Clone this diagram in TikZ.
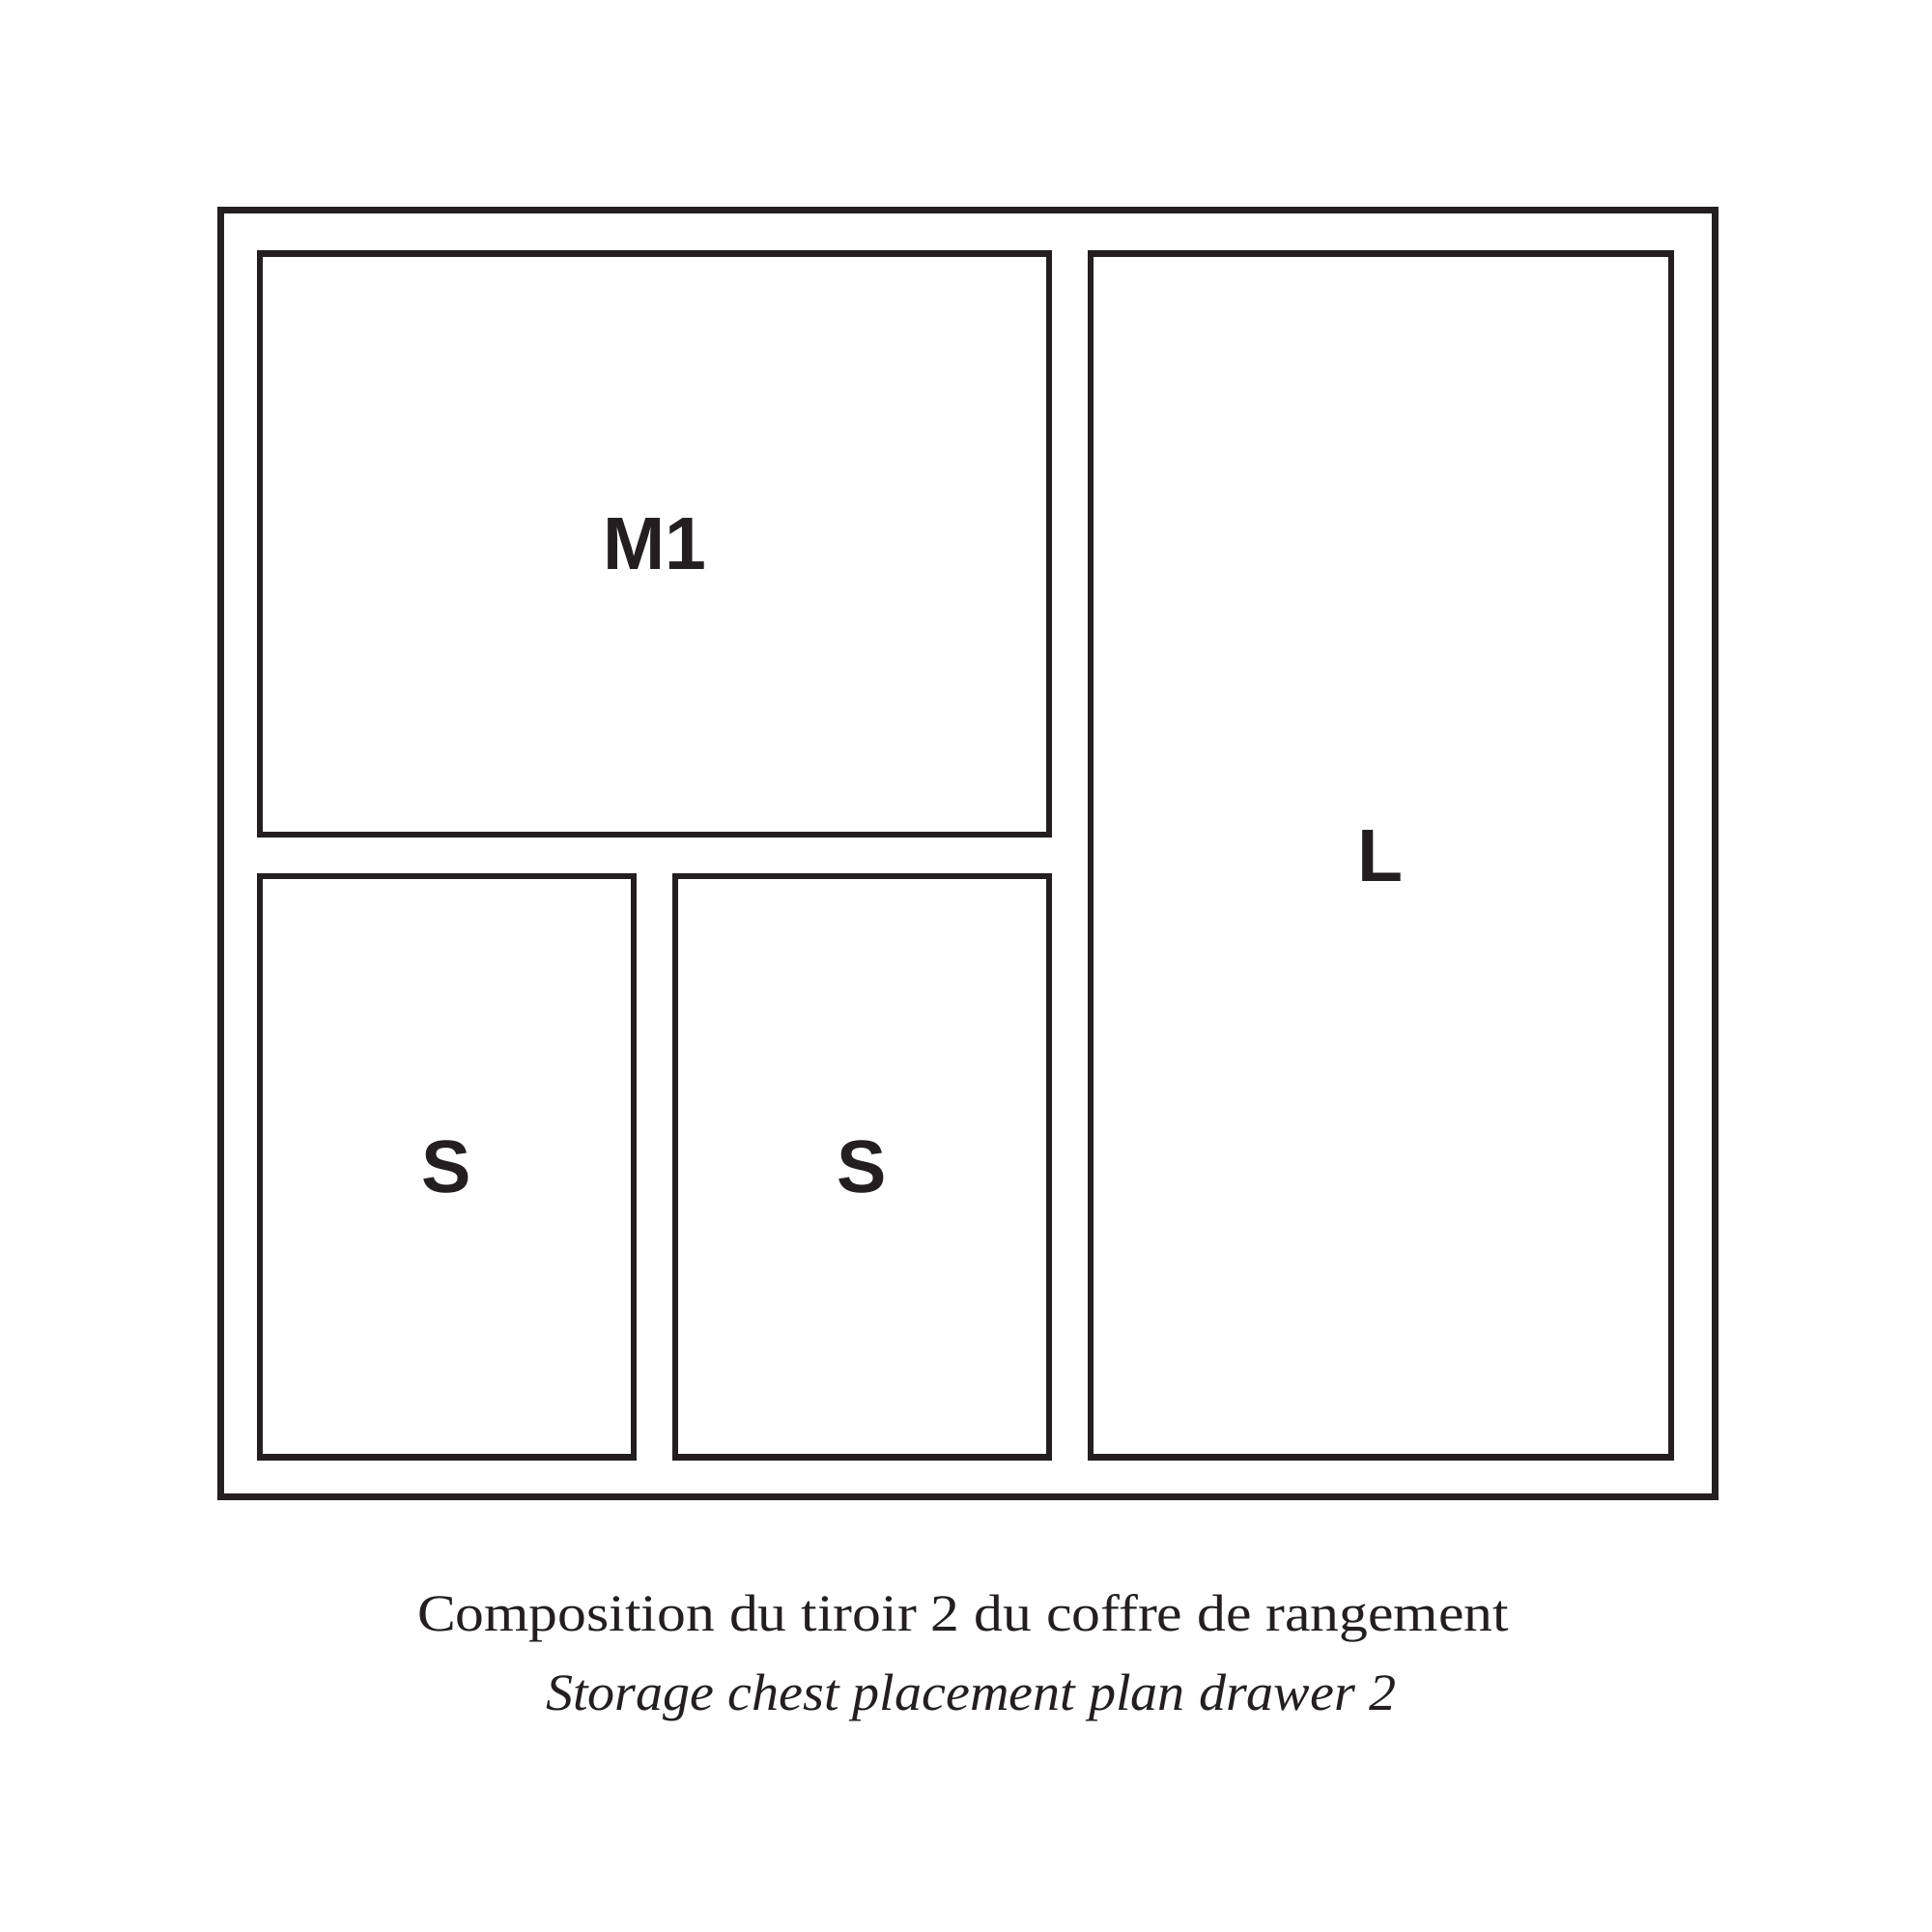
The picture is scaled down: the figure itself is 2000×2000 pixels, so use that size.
\documentclass[tikz,border=0pt]{standalone}
\usepackage{fontspec}
\setmainfont{Liberation Serif}
\setsansfont{Liberation Sans}
\usepackage{graphicx}
\definecolor{ink}{HTML}{231F20}
\begin{document}
\begin{tikzpicture}[x=1pt,y=-1pt,
  frame/.style={draw=ink,line width=7pt,inner sep=0pt,outer sep=0pt},
  box/.style={draw=ink,line width=6.2pt,inner sep=0pt,outer sep=0pt,text=ink,
    font=\sffamily\bfseries\fontsize{77}{77}\selectfont},
  caption/.style={inner sep=0pt,outer sep=0pt,anchor=base west,text=ink}]
\useasboundingbox[fill=white] (0,0) rectangle (2000,2000);
\node[frame,minimum width=1547pt,minimum height=1331.5pt] (outer) at (1002,883.25) {};
\node[box,minimum width=817pt,minimum height=601.5pt] (m1) at (677.5,563.25) {M1};
\node[box,minimum width=601.3pt,minimum height=1246pt] (l) at (1429.35,885.5) {L};
\node[box,minimum width=387pt,minimum height=601.5pt] (s1) at (462.5,1207.75) {S};
\node[box,minimum width=387pt,minimum height=601.5pt] (s2) at (892.5,1207.75) {S};
\node[caption] (cap1) at (432,1688) {\resizebox{1130pt}{\height}{\fontsize{54}{54}\selectfont Composition du tiroir 2 du coffre de rangement}};
\node[caption] (cap2) at (565,1770) {\resizebox{880pt}{\height}{\fontsize{54}{54}\selectfont\itshape Storage chest placement plan drawer 2}};
\end{tikzpicture}
\end{document}
